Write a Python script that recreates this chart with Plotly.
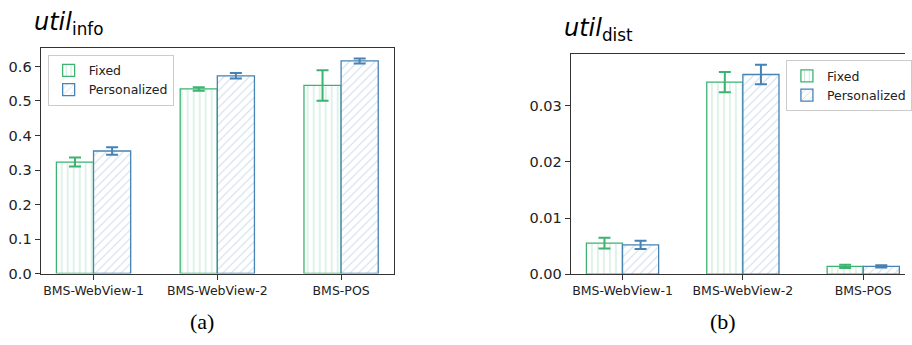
import plotly.graph_objects as go

categories = ["BMS-WebView-1", "BMS-WebView-2", "BMS-POS"]

# (a) util_info
info_fixed = [0.323, 0.535, 0.545]
info_fixed_err = [0.013, 0.005, 0.044]
info_pers = [0.355, 0.573, 0.616]
info_pers_err = [0.011, 0.008, 0.007]

# (b) util_dist
dist_fixed = [0.00552, 0.03423, 0.00140]
dist_fixed_err = [0.00095, 0.00180, 0.00030]
dist_pers = [0.00522, 0.03557, 0.00138]
dist_pers_err = [0.00075, 0.00175, 0.00020]

GREEN = "#3cb371"
BLUE = "#4682b4"
GREEN_H = "rgba(60,179,113,0.6)"
BLUE_H = "rgba(70,130,180,0.55)"

fig = go.Figure()


def add_bar(x, y, err, name, color, hcolor, shape, xa, ya, legend):
    fig.add_trace(go.Bar(
        x=x, y=y, name=name, xaxis=xa, yaxis=ya, legend=legend,
        marker=dict(color="white", line=dict(color=color, width=1.3),
                    pattern=dict(shape=shape, fgcolor=hcolor, bgcolor="white",
                                 size=6, solidity=0.18)),
        error_y=dict(type="data", array=err, visible=True, color=color,
                     thickness=2, width=6),
    ))


add_bar(categories, info_fixed, info_fixed_err, "Fixed", GREEN, GREEN_H, "|", "x", "y", "legend")
add_bar(categories, info_pers, info_pers_err, "Personalized", BLUE, BLUE_H, "/", "x", "y", "legend")
add_bar(categories, dist_fixed, dist_fixed_err, "Fixed", GREEN, GREEN_H, "|", "x2", "y2", "legend2")
add_bar(categories, dist_pers, dist_pers_err, "Personalized", BLUE, BLUE_H, "/", "x2", "y2", "legend2")

AX = "#333333"
tickfont_x = dict(family="DejaVu Sans", size=12.5, color="#222")
tickfont_y = dict(family="DejaVu Sans", size=14.5, color="#222")

fig.update_layout(
    width=912, height=345,
    margin=dict(l=0, r=0, t=0, b=0),
    paper_bgcolor="white", plot_bgcolor="white",
    barmode="group", bargap=0.4, bargroupgap=0,
    xaxis=dict(domain=[41 / 912, 397 / 912], anchor="y", range=[-0.427, 2.427],
               showline=True, linecolor=AX, linewidth=1.3, mirror=True,
               ticks="outside", ticklen=5, tickcolor=AX, tickfont=tickfont_x,
               showgrid=False, zeroline=False),
    yaxis=dict(domain=[1 - 280 / 345, 1 - 49 / 345], anchor="x", range=[0, 0.654],
               dtick=0.1, tickformat=".1f",
               showline=True, linecolor=AX, linewidth=1.3, mirror=True,
               ticks="outside", ticklen=5, tickcolor=AX, tickfont=tickfont_y,
               showgrid=False, zeroline=False),
    xaxis2=dict(domain=[575.3 / 912, 1.0], anchor="y2", range=[-0.429, 2.347],
                showline=True, linecolor=AX, linewidth=1.3, mirror=True,
                ticks="outside", ticklen=5, tickcolor=AX, tickfont=tickfont_x,
                showgrid=False, zeroline=False),
    yaxis2=dict(domain=[1 - 280.7 / 345, 1 - 55.7 / 345], anchor="x2", range=[0, 0.03915],
                dtick=0.01, tickformat=".2f",
                showline=True, linecolor=AX, linewidth=1.3, mirror=False,
                ticks="outside", ticklen=5, tickcolor=AX, tickfont=tickfont_y,
                showgrid=False, zeroline=False),
    legend=dict(x=48 / 912, y=1 - 56 / 345, xanchor="left", yanchor="top",
                bgcolor="rgba(255,255,255,0.8)", bordercolor="#cccccc", borderwidth=1,
                font=dict(family="DejaVu Sans", size=12.5, color="#222")),
    legend2=dict(x=792 / 912, y=1 - 61.7 / 345, xanchor="left", yanchor="top",
                 bgcolor="rgba(255,255,255,0.8)", bordercolor="#cccccc", borderwidth=1,
                 font=dict(family="DejaVu Sans", size=12.5, color="#222")),
    annotations=[
        dict(text="<i>util</i><sub>info</sub>", x=32 / 912, y=1 - 24 / 345,
             xref="paper", yref="paper", xanchor="left", yanchor="middle",
             showarrow=False, font=dict(family="DejaVu Sans", size=24, color="black")),
        dict(text="<i>util</i><sub>dist</sub>", x=566 / 912, y=1 - 30 / 345,
             xref="paper", yref="paper", xanchor="left", yanchor="middle",
             showarrow=False, font=dict(family="DejaVu Sans", size=24, color="black")),
        dict(text="(a)", x=204 / 912, y=1 - 329 / 345, xref="paper", yref="paper",
             xanchor="center", yanchor="middle", showarrow=False,
             font=dict(family="Liberation Serif", size=22, color="black")),
        dict(text="(b)", x=729 / 912, y=1 - 329 / 345, xref="paper", yref="paper",
             xanchor="center", yanchor="middle", showarrow=False,
             font=dict(family="Liberation Serif", size=22, color="black")),
    ],
)

fig.write_html("out.html")
